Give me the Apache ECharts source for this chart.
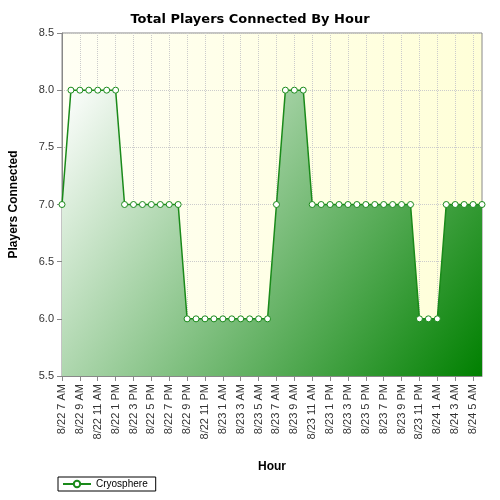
<!DOCTYPE html><html><head><meta charset="utf-8"><script src="https://cdn.jsdelivr.net/npm/echarts@6/dist/echarts.min.js"></script></head><body style="margin:0"><div id="c" style="width:500px;height:500px"></div><script>
const categories=[];
const days=['8/22','8/23','8/24'];
const hours=['12 AM','1 AM','2 AM','3 AM','4 AM','5 AM','6 AM','7 AM','8 AM','9 AM','10 AM','11 AM','12 PM','1 PM','2 PM','3 PM','4 PM','5 PM','6 PM','7 PM','8 PM','9 PM','10 PM','11 PM'];
for(let i=0;i<48;i++){const h=7+i;categories.push(days[Math.floor(h/24)]+' '+hours[h%24]);}
const players=[7,8,8,8,8,8,8,7,7,7,7,7,7,7,6,6,6,6,6,6,6,6,6,6,7,8,8,8,7,7,7,7,7,7,7,7,7,7,7,7,6,6,6,7,7,7,7,7];
const chart=echarts.init(document.getElementById('c'));
chart.setOption({
backgroundColor:'#fff',animation:false,
title:{text:'Total Players Connected By Hour',left:'center',top:8,textStyle:{fontSize:13,fontWeight:'bold',color:'#000',fontFamily:'DejaVu Sans'}},
grid:{left:62,right:18,top:33,bottom:124,show:true,borderColor:'#888',borderWidth:1,backgroundColor:'transparent'},
legend:{left:58,bottom:9,itemWidth:28,itemHeight:8,borderColor:'#000',borderWidth:1,padding:[2,8,2,4],borderRadius:0,textStyle:{fontSize:10,color:'#000'},data:['Cryosphere']},
xAxis:{type:'category',data:categories,boundaryGap:false,name:'Hour',nameLocation:'middle',nameGap:85,nameTextStyle:{fontWeight:'bold',fontSize:12,color:'#000'},
axisLine:{lineStyle:{color:'#888'}},axisTick:{interval:1,lineStyle:{color:'#888'}},
axisLabel:{interval:1,rotate:90,fontSize:11,color:'#333'},
splitLine:{show:true,interval:1,lineStyle:{type:'dotted',color:'#ccc'}}},
yAxis:{type:'value',min:5.5,max:8.5,interval:0.5,name:'Players Connected',nameLocation:'middle',nameGap:42,nameTextStyle:{fontWeight:'bold',fontSize:12,color:'#000'},
axisLine:{show:true,lineStyle:{color:'#888'}},axisTick:{show:true},axisLabel:{formatter:v=>v.toFixed(1),fontSize:11,color:'#333'},
splitLine:{lineStyle:{type:'dotted',color:'#ccc'}}},
series:[{name:'Cryosphere',type:'line',data:players,symbol:'circle',symbolSize:6,showAllSymbol:true,
itemStyle:{color:'#fff',borderColor:'#1a8a1a',borderWidth:1},lineStyle:{color:'#1a8a1a',width:1.5},
areaStyle:{opacity:1,origin:'start',color:new echarts.graphic.LinearGradient(0,0,1,1,[{offset:0,color:'#ffffff'},{offset:1,color:'#008000'}])}}]
});
const g=chart.getModel().getComponent('grid').coordinateSystem.getRect();
chart.setOption({graphic:[{type:'rect',z:-1,shape:{x:g.x,y:g.y,width:g.width,height:g.height},style:{fill:new echarts.graphic.LinearGradient(0,0,1,0,[{offset:0,color:'#fffff4'},{offset:1,color:'#ffffd8'}])}}]});
</script></body></html>
